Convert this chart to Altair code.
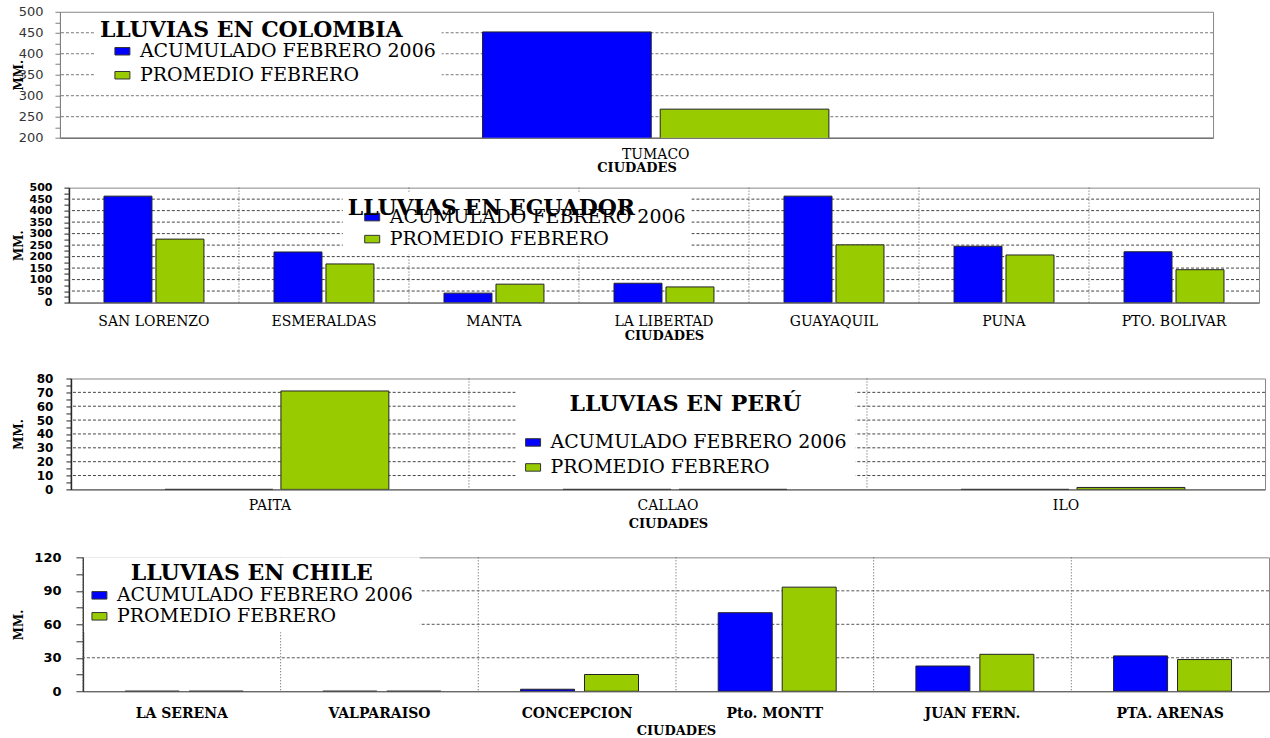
import altair as alt
import pandas as pd

SERIF = "DejaVu Serif"
SANS = "DejaVu Sans"

ACUM = "ACUMULADO FEBRERO 2006"
PROM = "PROMEDIO FEBRERO"
SERIES = [ACUM, PROM]
COLORS = ["#0000FF", "#99CC00"]

# ---- data ----
COL_CITIES = ["TUMACO"]
COL_ACUM = [452]
COL_PROM = [268]

ECU_CITIES = ["SAN LORENZO", "ESMERALDAS", "MANTA", "LA LIBERTAD", "GUAYAQUIL", "PUNA", "PTO. BOLIVAR"]
ECU_ACUM = [463, 220, 41, 84, 463, 245, 221]
ECU_PROM = [276, 168, 80, 68, 251, 207, 143]

PER_CITIES = ["PAITA", "CALLAO", "ILO"]
PER_ACUM = [0, 0, 0]
PER_PROM = [71, 0, 1.4]

CHI_CITIES = ["LA SERENA", "VALPARAISO", "CONCEPCION", "Pto. MONTT", "JUAN FERN.", "PTA. ARENAS"]
CHI_ACUM = [0, 0, 1.8, 70.4, 22.6, 31.7]
CHI_PROM = [0, 0, 15, 93.3, 33.1, 28.4]

# ---- axis ticks ----
COL_TICKS = [200, 225, 250, 275, 300, 325, 350, 375, 400, 425, 450, 475, 500]
COL_GRID = [250, 300, 350, 400, 450]
ECU_TICKS = [0, 25, 50, 75, 100, 125, 150, 175, 200, 225, 250, 275, 300, 325, 350, 375, 400, 425, 450, 475, 500]
ECU_GRID = [50, 100, 150, 200, 250, 300, 350, 400, 450]
PER_TICKS = [0, 5, 10, 15, 20, 25, 30, 35, 40, 45, 50, 55, 60, 65, 70, 75, 80]
PER_GRID = [10, 20, 30, 40, 50, 60, 70]
CHI_TICKS = [0, 15, 30, 45, 60, 75, 90, 105, 120]
CHI_GRID = [30, 60, 90]

RES = dict(color="independent", x="independent", y="independent", xOffset="independent")


def panel(cities, acum, prom, title, ticks, step, grid, domain, width, height,
          x_pad, bar_scale, leg, yax, xax, grid_color, dividers=True):
    n = len(cities)
    df = pd.DataFrame({
        "CIUDAD": cities + cities,
        "SERIE": [ACUM] * n + [PROM] * n,
        "MM": acum + prom,
    })
    x_scale = alt.Scale(domain=cities, paddingInner=0, paddingOuter=x_pad[0], align=x_pad[1])
    y_scale = alt.Scale(domain=domain, nice=False, zero=False)

    x_axis = alt.Axis(
        title="CIUDADES", labelAngle=0, ticks=False, tickSize=0, grid=False,
        labelPadding=xax["lp"], titlePadding=xax["tp"],
        labelFont=SERIF, labelFontSize=14, labelFontWeight=xax["lw"], labelColor="black",
        titleFont=SERIF, titleFontSize=13, titleFontWeight="bold", titleColor="black",
        domainColor="#555555", labelLimit=0)
    y_axis = alt.Axis(
        title="MM.", values=ticks,
        labelExpr=f"datum.value % {step} == 0 ? datum.label : ''",
        grid=False, tickSize=yax["ts"], tickColor=yax["dc"], domainColor=yax["dc"],
        domainWidth=yax["dw"], labelPadding=yax["lp"],
        labelFont=SANS, labelFontSize=yax["fs"], labelFontWeight=yax["lw"], labelColor=yax["lc"],
        titleFont=SERIF, titleFontSize=12, titleFontWeight="bold", titleColor="black",
        titlePadding=0, minExtent=yax["ext"], maxExtent=yax["ext"],
        labelOverlap=False, labelFlush=False)

    layers = []
    layers.append(alt.Chart(pd.DataFrame({"MM": grid})).mark_rule(
        strokeDash=[3, 2], color=grid_color, strokeWidth=1
    ).encode(y=alt.Y("MM:Q", scale=y_scale, axis=y_axis)))

    if dividers:
        layers.append(alt.Chart(pd.DataFrame({"CIUDAD": cities})).mark_rule(
            strokeDash=[1, 2], color="#555555", strokeWidth=1
        ).encode(x=alt.X("CIUDAD:N", scale=x_scale, bandPosition=0, axis=x_axis)))

    bars = alt.Chart(df).mark_bar(stroke="#222222", strokeWidth=1, clip=True).encode(
        x=alt.X("CIUDAD:N", scale=x_scale, axis=x_axis),
        xOffset=alt.XOffset("SERIE:N", sort=SERIES, scale=alt.Scale(
            domain=SERIES, paddingInner=bar_scale[0], paddingOuter=bar_scale[1], align=bar_scale[2])),
        y=alt.Y("MM:Q", scale=y_scale, axis=y_axis),
        color=alt.Color("SERIE:N", scale=alt.Scale(domain=SERIES, range=COLORS), legend=alt.Legend(
            title=title, orient="none", legendX=leg["x"], legendY=leg["y"], direction="vertical",
            fillColor="white", padding=leg["pad"],
            titleFont=SERIF, titleFontSize=22, titleFontWeight="bold", titleColor="black",
            titleAnchor=leg["anchor"], titlePadding=leg["tp"], titleLimit=0,
            labelFont=SERIF, labelFontSize=19, labelColor="black", labelLimit=0,
            labelOffset=8, rowPadding=leg["rp"],
            symbolType="M-1,-0.5H1V0.5H-1Z", symbolSize=225,
            symbolStrokeColor="#333333", symbolStrokeWidth=1, symbolOffset=leg["so"])),
    )
    layers.append(bars)
    body = alt.layer(*layers).properties(
        width=width, height=height, view=alt.ViewBackground(stroke="#888888", strokeWidth=1))

    # tiny invisible spacer so each panel keeps its own left offset
    spacer = alt.Chart(pd.DataFrame({"s": [0]})).mark_point(opacity=0, size=1).encode(
        x=alt.value(0), y=alt.value(0)
    ).properties(width=1, height=1, view=alt.ViewBackground(stroke="transparent"))
    return alt.hconcat(spacer, body, spacing=0).resolve_scale(**RES).resolve_legend(color="independent")


p1 = panel(COL_CITIES, COL_ACUM, COL_PROM, "LLUVIAS EN COLOMBIA", COL_TICKS, 50, COL_GRID,
           [200, 500], 1154, 126, (1, 0.525), (0.0506, 0.107, 0.5),
           dict(x=35, y=3, pad=5, anchor="start", tp=0, rp=4, so=13),
           dict(ts=5, dc="#808080", dw=1, lp=12, lw="normal", lc="#333333", ext=34, fs=13),
           dict(lp=9.5, tp=0.5, lw="normal"), "#777777", dividers=False)

p2 = panel(ECU_CITIES, ECU_ACUM, ECU_PROM, "LLUVIAS EN ECUADOR", ECU_TICKS, 50, ECU_GRID,
           [0, 500], 1191, 115, (0, 0.5), (0.077, 0.674, 0.5),
           dict(x=274, y=5, pad=5, anchor="start", tp=-12, rp=2, so=15),
           dict(ts=5, dc="#222222", dw=1.5, lp=12, lw="bold", lc="black", ext=43, fs=11),
           dict(lp=11.5, tp=1, lw="normal"), "#444444")

p3 = panel(PER_CITIES, PER_ACUM, PER_PROM, "LLUVIAS EN PERÚ", PER_TICKS, 10, PER_GRID,
           [0, 80], 1195, 111, (0, 0.5), (0.069, 0.751, 0.54),
           dict(x=445, y=7.5, pad=8, anchor="middle", tp=17, rp=5, so=0),
           dict(ts=5, dc="#222222", dw=1.5, lp=13, lw="bold", lc="black", ext=45, fs=12),
           dict(lp=9, tp=5.5, lw="normal"), "#444444")

p4 = panel(CHI_CITIES, CHI_ACUM, CHI_PROM, "LLUVIAS EN CHILE", CHI_TICKS, 30, CHI_GRID,
           [0, 120], 1187, 134, (0, 0.5), (0.156, 0.623, 0.53),
           dict(x=1, y=0, pad=6, anchor="middle", tp=0.5, rp=1, so=0),
           dict(ts=7, dc="#333333", dw=1.5, lp=15, lw="bold", lc="black", ext=57, fs=13),
           dict(lp=15.5, tp=4, lw="bold"), "#555555")

top = alt.vconcat(p1, p2, spacing=5).resolve_scale(**RES).resolve_legend(color="independent")
bottom = alt.vconcat(p3, p4, spacing=19).resolve_scale(**RES).resolve_legend(color="independent")

chart = alt.vconcat(top, bottom, spacing=29).resolve_scale(**RES).resolve_legend(
    color="independent"
).properties(
    padding={"left": 9, "top": 4.5, "right": 0, "bottom": 0}, background="white"
)

chart.save("out.html", embed_options={"renderer": "svg", "actions": False})
